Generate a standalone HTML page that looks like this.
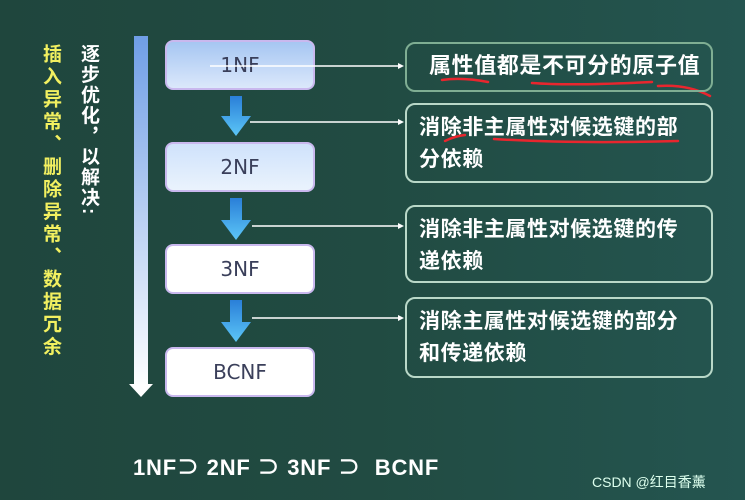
<!DOCTYPE html>
<html><head><meta charset="utf-8"><style>
body{margin:0;width:745px;height:500px;overflow:hidden;background:linear-gradient(90deg,#1f463d 0%,#214b42 50%,#245550 100%);font-family:"Liberation Sans","Noto Sans CJK SC",sans-serif;position:relative}
.a{position:absolute}
.v{writing-mode:vertical-rl;font-size:19px;font-weight:bold;line-height:20px}
.nf{position:absolute;left:165px;width:150px;height:50px;border-radius:8px;border:2px solid #c9b8ee;box-sizing:border-box;text-align:center;line-height:46px;font-size:20px;color:#3a3f5a;font-family:"DejaVu Sans",sans-serif}
.rb{position:absolute;left:405px;width:308px;border:2px solid #b9d8c8;border-radius:10px;box-sizing:border-box;color:#fff;font-size:21px;font-weight:bold;padding:7px 10px 7px 12px;line-height:32px;letter-spacing:0.6px;white-space:nowrap}
</style></head><body>
<div class="a v" style="left:40px;top:44px;color:#f2f060;letter-spacing:3.5px">插入异常、删除异常、数据冗余</div>
<div class="a v" style="left:78px;top:44px;color:#fff;letter-spacing:1.5px">逐步优化，以解决:</div>
<div class="a" style="left:134px;top:36px;width:14px;height:352px;background:linear-gradient(#6f9ee6,#ffffff)"></div>
<div class="a" style="left:129px;top:384px;width:0;height:0;border-left:12px solid transparent;border-right:12px solid transparent;border-top:13px solid #fff"></div>

<div class="nf" style="top:40px;background:linear-gradient(#a6c6f2,#dbe8fb)">1NF</div>
<div class="nf" style="top:142px;background:linear-gradient(#cfe2fb,#eaf3fd)">2NF</div>
<div class="nf" style="top:244px;background:#fff">3NF</div>
<div class="nf" style="top:347px;background:#fff">BCNF</div>

<svg class="a" style="left:0;top:0" width="745" height="500">
<defs><linearGradient id="g" x1="0" y1="0" x2="0" y2="1"><stop offset="0" stop-color="#2a7fd8"/><stop offset="1" stop-color="#5cc6f7"/></linearGradient></defs>
<g fill="url(#g)">
<path d="M230 96h12v20h9l-15 20l-15-20h9z"/>
<path d="M230 198h12v22h9l-15 20l-15-20h9z"/>
<path d="M230 300h12v22h9l-15 20l-15-20h9z"/>
</g>
<g stroke="#fff" stroke-width="1.5">
<line x1="210" y1="66" x2="400" y2="66"/>
<line x1="250" y1="122" x2="400" y2="122"/>
<line x1="252" y1="226" x2="400" y2="226"/>
<line x1="252" y1="318" x2="400" y2="318"/>
</g>
<g fill="#fff">
<path d="M404 66l-6-3v6z"/><path d="M404 122l-6-3v6z"/><path d="M404 226l-6-3v6z"/><path d="M404 318l-6-3v6z"/>
</g>
<g stroke="#e8262e" stroke-width="2.5" fill="none" stroke-linecap="round">
<path d="M442 80q20-3 46 2"/>
<path d="M532 83q40 3 120-1"/>
<path d="M658 86q30-2 52 10"/>
<path d="M445 141q10-5 20-6"/>
<path d="M494 139q80 5 184 2"/>
</g>
</svg>

<div class="rb" style="top:42px;height:50px;border-color:#7fae93;font-size:22px;padding:6px 10px 6px 22px;letter-spacing:0.6px">属性值都是不可分的原子值</div>
<div class="rb" style="top:103px;height:80px">消除非主属性对候选键的部<br>分依赖</div>
<div class="rb" style="top:205px;height:78px">消除非主属性对候选键的传<br>递依赖</div>
<div class="rb" style="top:297px;height:81px">消除主属性对候选键的部分<br>和传递依赖</div>

<div class="a" style="left:133px;top:450px;color:#fff;font-size:22px;font-weight:bold;white-space:pre;letter-spacing:0.8px">1NF⊃ 2NF ⊃ 3NF ⊃  BCNF</div>
<div class="a" style="left:592px;top:472px;color:#dfe;font-size:14px">CSDN @红目香薰</div>
</body></html>
